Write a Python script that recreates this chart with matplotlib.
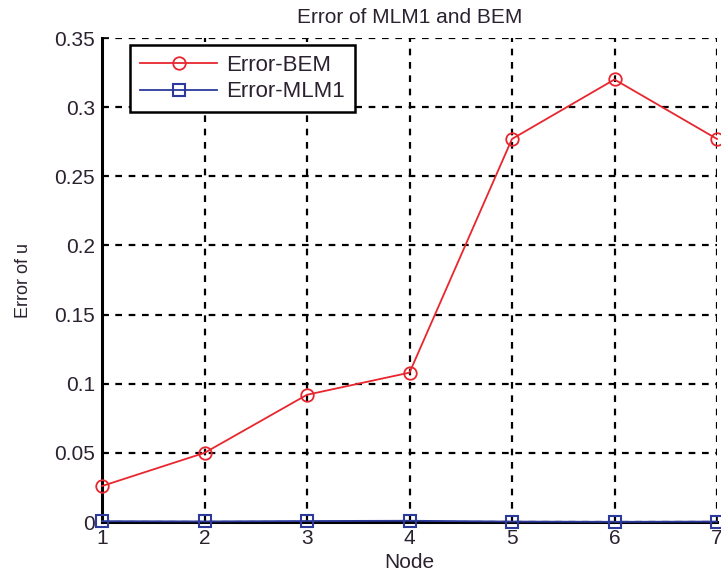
import numpy as np
import matplotlib.pyplot as plt

plt.rcParams['font.family'] = ['Liberation Sans', 'DejaVu Sans']

# error per node
nodes = [1, 2, 3, 4, 5, 6, 7]
err_bem = [0.026, 0.050, 0.092, 0.108, 0.277, 0.320, 0.277]
err_mlm1 = [0.0006, 0.0004, 0.0007, 0.0009, 0.0003, 0.0001, 0.0003]
yticks = [0, 0.05, 0.1, 0.15, 0.2, 0.25, 0.3, 0.35]
ytick_labels = ['0', '0.05', '0.1', '0.15', '0.2', '0.25', '0.3', '0.35']

txt = '#2b2230'

fig = plt.figure(figsize=(7.21, 5.82), dpi=100)
ax = fig.add_axes([102/721, 1-522/582, 615/721, 484/582])

ax.plot(nodes, err_bem, color='#e8262e', lw=1.3, marker='o', ms=9,
        mfc='none', mec='#e8262e', mew=1.3, label='Error-BEM', clip_on=False, zorder=4)
ax.plot(nodes, err_mlm1, color='#2b3a9c', lw=1.3, marker='s', ms=9,
        mfc='none', mec='#2b3a9c', mew=1.5, label='Error-MLM1', clip_on=False, zorder=4)

ax.set_xlim(1, 7)
ax.set_ylim(0, 0.35)
ax.set_xticks(nodes)
ax.set_yticks(yticks)
ax.set_yticklabels(ytick_labels)
ax.tick_params(direction='in', length=5, width=1.2, labelsize=15, colors='black',
               labelcolor=txt, pad=5)

ax.grid(True, color='black', linestyle=(0, (3, 3)), linewidth=1.6)
for s in ['top', 'right']:
    ax.spines[s].set_visible(False)
for s in ['left', 'bottom']:
    ax.spines[s].set_linewidth(2.2)
    ax.spines[s].set_color('black')

ax.set_title('Error of MLM1 and BEM', fontsize=15, color=txt, pad=11)
ax.set_xlabel('Node', fontsize=15, color=txt, labelpad=4)
ax.set_ylabel('Error of u', fontsize=13, color=txt, labelpad=16)

leg = ax.legend(loc='upper left', bbox_to_anchor=(0.045, 0.986), fontsize=16,
                frameon=True, fancybox=False, framealpha=1, borderpad=0.45,
                handlelength=3.5, labelspacing=0.25, handletextpad=0.4,
                borderaxespad=0)
leg.get_frame().set_edgecolor('black')
leg.get_frame().set_linewidth(1.8)
leg.set_zorder(10)
for t in leg.get_texts():
    t.set_color(txt)

fig.savefig('out.png', dpi=100)
